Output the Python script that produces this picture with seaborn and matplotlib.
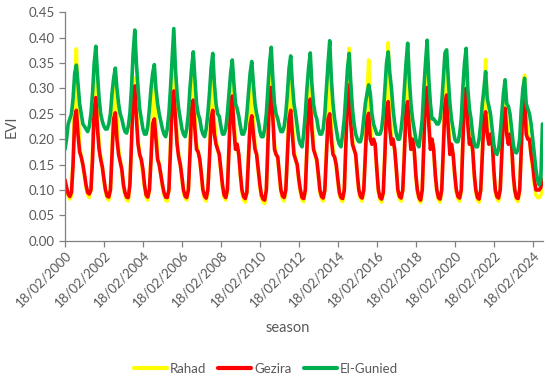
import numpy as np
import pandas as pd
import matplotlib
matplotlib.use("Agg")
import matplotlib.pyplot as plt
import seaborn as sns

# monthly EVI (Feb 2000 .. Aug 2024), one row per year Jan..Dec
rahad_evi = [
    [0.115, 0.10, 0.088, 0.082, 0.088, 0.16, 0.30, 0.378, 0.26, 0.19, 0.165],
    [0.15, 0.125, 0.105, 0.09, 0.085, 0.10, 0.18, 0.30, 0.36, 0.25, 0.19, 0.165],
    [0.145, 0.115, 0.095, 0.083, 0.08, 0.10, 0.18, 0.28, 0.33, 0.24, 0.18, 0.16],
    [0.14, 0.105, 0.09, 0.08, 0.078, 0.11, 0.20, 0.30, 0.32, 0.26, 0.20, 0.17],
    [0.155, 0.13, 0.105, 0.085, 0.08, 0.10, 0.17, 0.26, 0.305, 0.23, 0.17, 0.15],
    [0.13, 0.105, 0.09, 0.08, 0.078, 0.10, 0.19, 0.31, 0.36, 0.27, 0.20, 0.17],
    [0.15, 0.12, 0.095, 0.083, 0.08, 0.10, 0.18, 0.29, 0.33, 0.25, 0.19, 0.175],
    [0.16, 0.125, 0.095, 0.082, 0.078, 0.10, 0.17, 0.27, 0.32, 0.24, 0.20, 0.18],
    [0.165, 0.135, 0.105, 0.085, 0.08, 0.10, 0.19, 0.30, 0.33, 0.25, 0.19, 0.19],
    [0.165, 0.125, 0.095, 0.08, 0.076, 0.095, 0.17, 0.26, 0.32, 0.24, 0.19, 0.17],
    [0.135, 0.105, 0.085, 0.076, 0.073, 0.10, 0.20, 0.31, 0.33, 0.26, 0.19, 0.17],
    [0.16, 0.125, 0.095, 0.082, 0.078, 0.10, 0.18, 0.27, 0.32, 0.24, 0.18, 0.16],
    [0.145, 0.115, 0.095, 0.08, 0.077, 0.10, 0.19, 0.29, 0.33, 0.25, 0.19, 0.17],
    [0.155, 0.125, 0.095, 0.082, 0.078, 0.10, 0.18, 0.27, 0.33, 0.24, 0.18, 0.165],
    [0.145, 0.115, 0.09, 0.08, 0.077, 0.10, 0.20, 0.32, 0.379, 0.27, 0.20, 0.18],
    [0.165, 0.125, 0.095, 0.082, 0.078, 0.10, 0.18, 0.28, 0.356, 0.25, 0.20, 0.20],
    [0.185, 0.135, 0.095, 0.08, 0.076, 0.095, 0.18, 0.30, 0.39, 0.27, 0.20, 0.20],
    [0.175, 0.135, 0.095, 0.082, 0.078, 0.10, 0.18, 0.29, 0.36, 0.26, 0.19, 0.20],
    [0.175, 0.125, 0.095, 0.08, 0.075, 0.10, 0.20, 0.31, 0.35, 0.26, 0.19, 0.20],
    [0.175, 0.125, 0.095, 0.08, 0.076, 0.10, 0.19, 0.30, 0.35, 0.25, 0.18, 0.19],
    [0.165, 0.125, 0.095, 0.082, 0.078, 0.10, 0.20, 0.31, 0.35, 0.26, 0.20, 0.20],
    [0.175, 0.125, 0.095, 0.08, 0.076, 0.10, 0.18, 0.28, 0.357, 0.25, 0.20, 0.21],
    [0.195, 0.135, 0.095, 0.082, 0.078, 0.10, 0.18, 0.27, 0.30, 0.24, 0.20, 0.21],
    [0.185, 0.125, 0.095, 0.08, 0.077, 0.10, 0.19, 0.29, 0.326, 0.24, 0.21, 0.20],
    [0.165, 0.14, 0.11, 0.09, 0.085, 0.085, 0.09, 0.10],
]

gezira_evi = [
    [0.12, 0.105, 0.092, 0.087, 0.095, 0.15, 0.24, 0.257, 0.21, 0.175, 0.165],
    [0.15, 0.13, 0.11, 0.095, 0.092, 0.10, 0.16, 0.26, 0.282, 0.22, 0.18, 0.16],
    [0.145, 0.12, 0.10, 0.088, 0.086, 0.10, 0.17, 0.24, 0.252, 0.20, 0.17, 0.155],
    [0.14, 0.11, 0.095, 0.086, 0.085, 0.11, 0.19, 0.29, 0.305, 0.24, 0.19, 0.17],
    [0.16, 0.14, 0.11, 0.09, 0.086, 0.10, 0.16, 0.23, 0.24, 0.20, 0.16, 0.15],
    [0.13, 0.11, 0.095, 0.086, 0.085, 0.10, 0.18, 0.28, 0.295, 0.24, 0.19, 0.165],
    [0.15, 0.125, 0.10, 0.088, 0.085, 0.10, 0.17, 0.26, 0.277, 0.22, 0.18, 0.175],
    [0.16, 0.13, 0.10, 0.088, 0.084, 0.10, 0.16, 0.24, 0.257, 0.21, 0.19, 0.18],
    [0.17, 0.14, 0.11, 0.09, 0.085, 0.10, 0.18, 0.27, 0.285, 0.22, 0.18, 0.19],
    [0.17, 0.13, 0.10, 0.087, 0.083, 0.095, 0.16, 0.23, 0.246, 0.21, 0.18, 0.17],
    [0.14, 0.11, 0.09, 0.082, 0.08, 0.10, 0.19, 0.29, 0.302, 0.24, 0.18, 0.17],
    [0.165, 0.13, 0.10, 0.088, 0.085, 0.10, 0.17, 0.24, 0.257, 0.21, 0.17, 0.16],
    [0.15, 0.12, 0.10, 0.085, 0.083, 0.10, 0.18, 0.265, 0.279, 0.22, 0.18, 0.17],
    [0.16, 0.13, 0.10, 0.087, 0.084, 0.10, 0.17, 0.24, 0.25, 0.20, 0.17, 0.165],
    [0.15, 0.12, 0.095, 0.085, 0.083, 0.10, 0.19, 0.29, 0.307, 0.23, 0.19, 0.18],
    [0.17, 0.13, 0.10, 0.087, 0.084, 0.10, 0.17, 0.24, 0.251, 0.20, 0.19, 0.20],
    [0.19, 0.14, 0.10, 0.085, 0.082, 0.095, 0.17, 0.26, 0.274, 0.22, 0.19, 0.20],
    [0.18, 0.14, 0.10, 0.087, 0.084, 0.10, 0.17, 0.26, 0.274, 0.22, 0.18, 0.20],
    [0.18, 0.13, 0.10, 0.085, 0.08, 0.10, 0.19, 0.29, 0.302, 0.23, 0.18, 0.20],
    [0.18, 0.13, 0.10, 0.085, 0.082, 0.10, 0.18, 0.27, 0.287, 0.22, 0.17, 0.19],
    [0.17, 0.13, 0.10, 0.087, 0.084, 0.10, 0.19, 0.29, 0.30, 0.23, 0.19, 0.20],
    [0.18, 0.13, 0.10, 0.085, 0.082, 0.10, 0.17, 0.24, 0.254, 0.21, 0.19, 0.21],
    [0.20, 0.14, 0.10, 0.087, 0.084, 0.10, 0.17, 0.25, 0.261, 0.21, 0.19, 0.21],
    [0.19, 0.13, 0.10, 0.085, 0.083, 0.10, 0.18, 0.27, 0.284, 0.21, 0.20, 0.20],
    [0.17, 0.15, 0.12, 0.10, 0.10, 0.10, 0.105, 0.12],
]

gunied_evi = [
    [0.18, 0.20, 0.23, 0.24, 0.25, 0.28, 0.33, 0.346, 0.31, 0.27, 0.25],
    [0.23, 0.225, 0.22, 0.215, 0.225, 0.25, 0.29, 0.35, 0.383, 0.33, 0.28, 0.25],
    [0.235, 0.225, 0.22, 0.22, 0.23, 0.25, 0.29, 0.32, 0.34, 0.30, 0.27, 0.25],
    [0.24, 0.225, 0.215, 0.212, 0.225, 0.25, 0.30, 0.37, 0.415, 0.35, 0.30, 0.26],
    [0.24, 0.22, 0.21, 0.21, 0.225, 0.26, 0.30, 0.33, 0.347, 0.30, 0.27, 0.25],
    [0.235, 0.22, 0.21, 0.205, 0.22, 0.25, 0.30, 0.36, 0.418, 0.34, 0.29, 0.26],
    [0.24, 0.22, 0.21, 0.205, 0.22, 0.25, 0.30, 0.34, 0.372, 0.32, 0.27, 0.25],
    [0.24, 0.22, 0.21, 0.205, 0.22, 0.25, 0.29, 0.34, 0.369, 0.31, 0.27, 0.25],
    [0.245, 0.225, 0.21, 0.21, 0.22, 0.25, 0.29, 0.33, 0.356, 0.31, 0.27, 0.26],
    [0.245, 0.225, 0.21, 0.21, 0.22, 0.25, 0.29, 0.33, 0.353, 0.31, 0.27, 0.25],
    [0.235, 0.215, 0.205, 0.205, 0.22, 0.25, 0.30, 0.35, 0.381, 0.32, 0.27, 0.25],
    [0.24, 0.225, 0.215, 0.215, 0.225, 0.25, 0.29, 0.34, 0.364, 0.31, 0.27, 0.25],
    [0.225, 0.20, 0.19, 0.185, 0.21, 0.25, 0.30, 0.34, 0.37, 0.31, 0.27, 0.25],
    [0.24, 0.22, 0.21, 0.21, 0.22, 0.25, 0.30, 0.35, 0.394, 0.32, 0.27, 0.24],
    [0.22, 0.20, 0.19, 0.185, 0.21, 0.24, 0.29, 0.34, 0.369, 0.31, 0.26, 0.23],
    [0.21, 0.20, 0.195, 0.195, 0.21, 0.24, 0.27, 0.29, 0.307, 0.29, 0.25, 0.23],
    [0.22, 0.21, 0.21, 0.21, 0.22, 0.25, 0.30, 0.35, 0.372, 0.33, 0.30, 0.26],
    [0.23, 0.21, 0.20, 0.20, 0.22, 0.25, 0.30, 0.35, 0.389, 0.32, 0.27, 0.24],
    [0.22, 0.20, 0.19, 0.185, 0.21, 0.24, 0.30, 0.35, 0.395, 0.32, 0.27, 0.24],
    [0.24, 0.235, 0.23, 0.23, 0.24, 0.27, 0.32, 0.37, 0.376, 0.32, 0.27, 0.24],
    [0.22, 0.20, 0.195, 0.195, 0.21, 0.24, 0.30, 0.35, 0.379, 0.30, 0.26, 0.24],
    [0.21, 0.19, 0.185, 0.185, 0.20, 0.23, 0.27, 0.30, 0.333, 0.28, 0.265, 0.25],
    [0.22, 0.19, 0.175, 0.17, 0.18, 0.21, 0.25, 0.29, 0.317, 0.27, 0.265, 0.25],
    [0.22, 0.19, 0.175, 0.173, 0.18, 0.20, 0.26, 0.30, 0.32, 0.27, 0.26, 0.25],
    [0.23, 0.20, 0.17, 0.14, 0.12, 0.11, 0.12, 0.23],
]

sites = ["Rahad", "Gezira", "El-Gunied"]
site_colors = ["#FFFF00", "#FF0000", "#00B050"]
tick_years = list(range(2000, 2025, 2))


def flatten(rows):
    return [v for row in rows for v in row]


series = [flatten(rahad_evi), flatten(gezira_evi), flatten(gunied_evi)]
dates = pd.date_range("2000-02-18", periods=len(series[0]), freq=pd.DateOffset(months=1))

df = pd.concat(
    [pd.DataFrame({"date": dates, "EVI": vals, "site": name}) for name, vals in zip(sites, series)],
    ignore_index=True,
)

sns.set_theme(style="white")
plt.rcParams["font.family"] = ["Lato", "DejaVu Sans"]

grey = "#595959"
fig = plt.figure(figsize=(5.5, 3.81), dpi=100)
ax = fig.add_axes([65 / 550, 1 - 240.7 / 381, 478 / 550, 228.4 / 381])

sns.lineplot(data=df, x="date", y="EVI", hue="site", hue_order=sites,
             palette=dict(zip(sites, site_colors)), linewidth=2.6, ax=ax)

ax.set_ylim(0, 0.45)
ax.set_yticks(np.arange(0, 0.451, 0.05))
ax.yaxis.set_major_formatter(matplotlib.ticker.FormatStrFormatter("%.2f"))
ax.set_xlim(pd.Timestamp("2000-02-18"), pd.Timestamp("2024-08-28"))
ticks = [pd.Timestamp(f"{y}-02-18") for y in tick_years]
ax.set_xticks(ticks)
ax.set_xticklabels([t.strftime("%d/%m/%Y") for t in ticks], rotation=45,
                   ha="right", rotation_mode="anchor")

for side in ["top", "right"]:
    ax.spines[side].set_visible(False)
for side in ["left", "bottom"]:
    ax.spines[side].set_color("#808080")
    ax.spines[side].set_linewidth(0.9)
ax.tick_params(axis="both", colors="#808080", labelcolor=grey, labelsize=9.5,
               length=4, width=0.9, direction="out", left=True, bottom=True)
ax.tick_params(axis="x", pad=2)

ax.set_xlabel("")
ax.set_ylabel("EVI", color=grey, fontsize=10.5, labelpad=7)
fig.text(288 / 550, 1 - 328 / 381, "season", ha="center", va="center", color=grey, fontsize=10.5)

sns.move_legend(ax, "center", bbox_to_anchor=(266 / 550, 1 - 369 / 381),
                bbox_transform=fig.transFigure, ncol=3, frameon=False, title=None,
                fontsize=9.5, handlelength=2.5, handletextpad=0.25, columnspacing=0.9)
for txt in ax.get_legend().get_texts():
    txt.set_color(grey)
for line in ax.get_legend().get_lines():
    line.set_linewidth(3)

fig.savefig("out.png", dpi=100)
